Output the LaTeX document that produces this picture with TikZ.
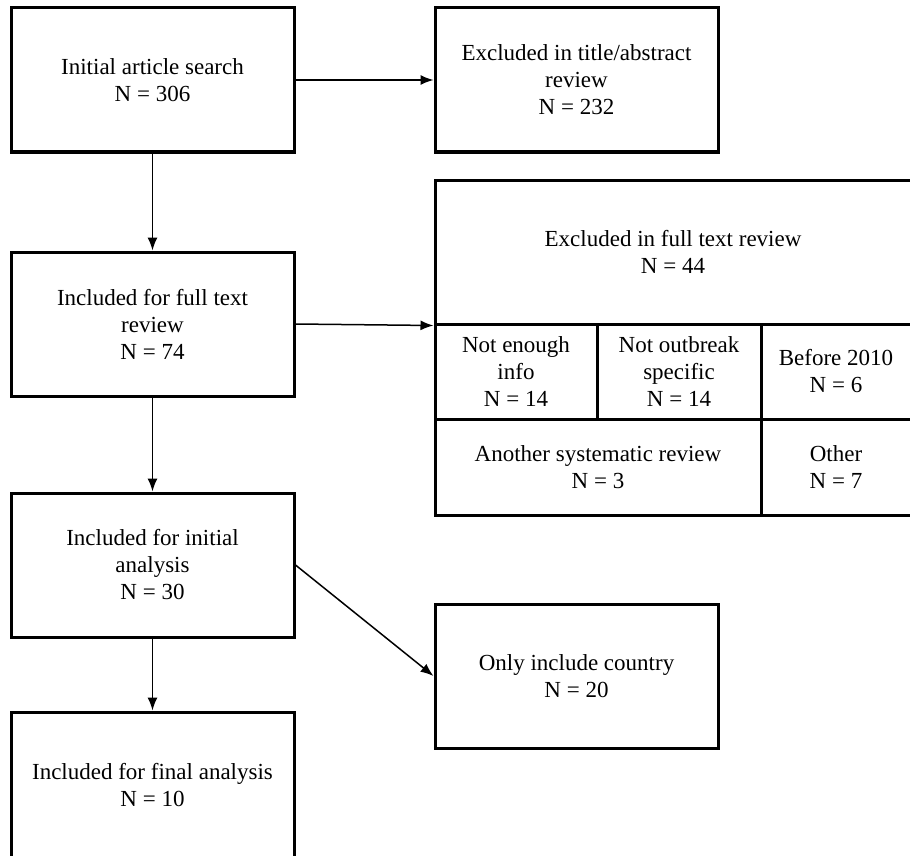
\documentclass[tikz,border=0pt]{standalone}
\usepackage{fontspec}
\setmainfont{Liberation Serif}
\usetikzlibrary{arrows.meta}
\begin{document}
\begin{tikzpicture}[x=1pt,y=-1pt,
  box/.style={draw,line width=3pt,align=center,inner sep=0pt,
    font=\fontsize{23}{27}\selectfont},
  cell/.style={box},
  arr/.style={line width=1.5pt,-{Latex[length=13pt,width=10pt]}}]
\useasboundingbox (0,0) rectangle (910,856);
% left column
\node[box,minimum width=283pt,minimum height=144pt] (b1) at (152.5,80) {Initial article search\\N = 306};
\node[box,minimum width=283pt,minimum height=144pt] (b3) at (152.5,324) {Included for full text\\review\\N = 74};
\node[box,minimum width=283pt,minimum height=144pt] (b4) at (152.5,565) {Included for initial\\analysis\\N = 30};
\node[box,minimum width=283pt,minimum height=146pt] (b6) at (152.5,785) {Included for final analysis\\N = 10};
% right column
\node[box,minimum width=283pt,minimum height=144pt] (b2) at (576.5,80) {Excluded in title/abstract\\review\\N = 232};
\node[box,minimum width=283pt,minimum height=144pt] (b5) at (576.5,676) {Only include country\\N = 20};
% excluded full text table
\node[cell,minimum width=476pt,minimum height=144pt] (top) at (673,252) {Excluded in full text review\\N = 44};
\node[cell,minimum width=162pt,minimum height=95pt] (c1) at (516,371.5) {Not enough\\info\\N = 14};
\node[cell,minimum width=164pt,minimum height=95pt] (c2) at (679,371.5) {Not outbreak\\specific\\N = 14};
\node[cell,minimum width=150pt,minimum height=95pt] (c3) at (836,371.5) {Before 2010\\N = 6};
\node[cell,minimum width=326pt,minimum height=96pt] (c4) at (598,467) {Another systematic review\\N = 3};
\node[cell,minimum width=150pt,minimum height=96pt] (c5) at (836,467) {Other\\N = 7};
% connectors
\draw[arr] (b1.east) -- (b2.west);
\draw[arr] (b1.south) -- (b3.north);
\draw[arr] (b3.east) -- (top.south west);
\draw[arr] (b3.south) -- (b4.north);
\draw[arr] (b4.east) -- (b5.west);
\draw[arr] (b4.south) -- (b6.north);
\end{tikzpicture}
\end{document}
